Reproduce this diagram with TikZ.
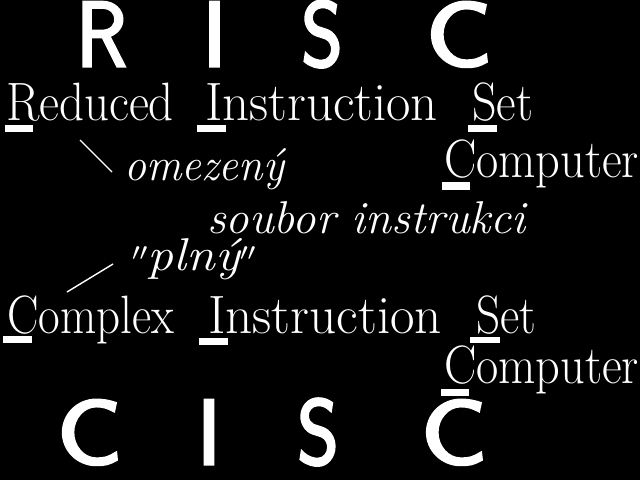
\documentclass[tikz,border=0pt]{standalone}
\newcommand\fitw[2]{\resizebox{#1pt}{\height}{#2}}
\newcommand\heavy[1]{\special{pdf:literal direct 2 Tr 3 w 1 1 1 RG}#1\special{pdf:literal direct 0 Tr 1 w}}
\begin{document}
\begin{tikzpicture}[x=1pt,y=-1pt,
  every node/.style={inner sep=0pt, outer sep=0pt, text=white},
  big/.style={font=\fontsize{92}{92}\selectfont\sffamily, anchor=base},
  word/.style={font=\fontsize{54}{54}\selectfont, anchor=base west},
  note/.style={font=\fontsize{46}{46}\selectfont\itshape, anchor=base west},
  bar/.style={fill=white},
  link/.style={draw=white, line width=1.4pt}]
\fill[black] (0,0) rectangle (640,480);
\useasboundingbox (0,0) rectangle (640,480);
% RISC
\node[big] (bR1) at (101.5,66) {\fitw{50}{\heavy{R}}};
\node[big] (bI1) at (214.5,66) {\heavy{I}};
\node[big] (bS1) at (322,66) {\fitw{41}{\heavy{S}}};
\node[big] (bC1) at (459,66) {\fitw{66}{\heavy{C}}};
% Reduced Instruction Set Computer
\node[word] (w1) at (6,120) {\fitw{168}{Reduced}};
\node[word] (w2) at (205,120) {\fitw{233}{Instruction}};
\node[word] (w3) at (472,120) {\fitw{61}{Set}};
\node[word] (w4) at (444,177) {\fitw{195}{Computer}};
\fill[bar] (5,125) rectangle (33,132);
\fill[bar] (197,125) rectangle (226,132);
\fill[bar] (468,125) rectangle (497,132);
\fill[bar] (442,182) rectangle (470,190);
% notes
\node[note] (n1) at (124,180) {\fitw{160}{omezený}};
\node[note] (n2) at (207,233) {\fitw{319}{soubor instrukci}};
\node[note] (n3) at (132,270) {\fitw{124}{${}''$plný${}''$}};
\coordinate (l1a) at (80,140);
\coordinate (l1b) at (112,172);
\coordinate (l2a) at (67,292);
\coordinate (l2b) at (113,264);
\draw[link] (l1a) -- (l1b);
\draw[link] (l2a) -- (l2b);
% Complex Instruction Set Computer
\node[word] (v1) at (7,333) {\fitw{167}{Complex}};
\node[word] (v2) at (208,333) {\fitw{234}{Instruction}};
\node[word] (v3) at (476,333) {\fitw{60}{Set}};
\node[word] (v4) at (444,383) {\fitw{195}{Computer}};
\fill[bar] (3,336) rectangle (32,343);
\fill[bar] (199,338) rectangle (228,345);
\fill[bar] (470,337) rectangle (500,343);
\fill[bar] (441,389) rectangle (469,396);
% CISC
\node[big] (bC2) at (89.5,464) {\fitw{65}{\heavy{C}}};
\node[big] (bI2) at (209,464) {\heavy{I}};
\node[big] (bS2) at (318,464) {\fitw{41}{\heavy{S}}};
\node[big] (bC3) at (454,464) {\fitw{66}{\heavy{C}}};
\end{tikzpicture}
\end{document}
